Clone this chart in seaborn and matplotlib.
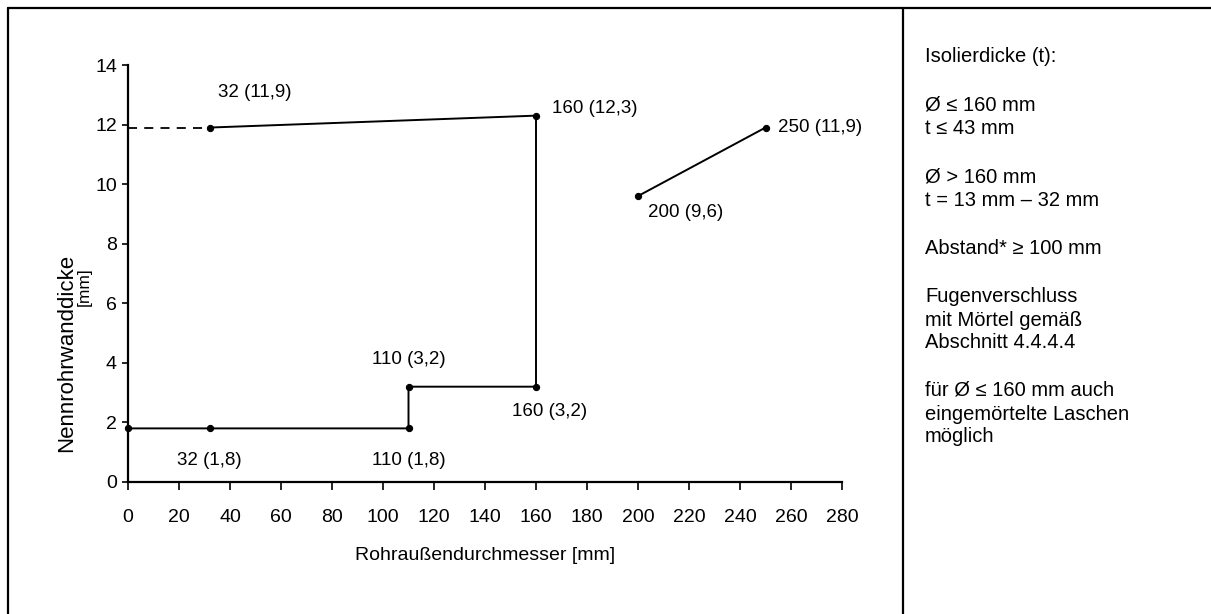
import matplotlib
matplotlib.use("Agg")
import matplotlib.pyplot as plt
import seaborn as sns
import pandas as pd
from matplotlib.lines import Line2D

# Daten: Grenzlinie Rohraußendurchmesser / Nennrohrwanddicke
haupt_x = [0, 32, 110, 110, 160, 160, 32]
haupt_y = [1.8, 1.8, 1.8, 3.2, 3.2, 12.3, 11.9]
gestrichelt_x = [0, 32]
gestrichelt_y = [11.9, 11.9]
rechts_x = [200, 250]
rechts_y = [9.6, 11.9]

punkt_x = [32, 160, 250, 200, 110, 160, 32, 110]
punkt_y = [11.9, 12.3, 11.9, 9.6, 3.2, 3.2, 1.8, 1.8]
punkt_text = ["32 (11,9)", "160 (12,3)", "250 (11,9)", "200 (9,6)",
              "110 (3,2)", "160 (3,2)", "32 (1,8)", "110 (1,8)"]

x_ticks = list(range(0, 281, 20))
y_ticks = list(range(0, 15, 2))

info_zeilen = [
    ("Isolierdicke (t):", 57),
    ("Ø ≤ 160 mm", 105),
    ("t ≤ 43 mm", 128),
    ("Ø > 160 mm", 177),
    ("t = 13 mm – 32 mm", 201),
    ("Abstand* ≥ 100 mm", 249),
    ("Fugenverschluss", 297),
    ("mit Mörtel gemäß", 320),
    ("Abschnitt 4.4.4.4", 343),
    ("für Ø ≤ 160 mm auch", 390),
    ("eingemörtelte Laschen", 414),
    ("möglich", 437),
]

sns.set_theme(style="ticks")
plt.rcParams['font.family'] = ['Liberation Sans', 'DejaVu Sans']
plt.rcParams['text.color'] = 'black'
plt.rcParams['axes.labelcolor'] = 'black'

W, H = 1211, 614
fig = plt.figure(figsize=(W / 100, H / 100), dpi=100)
ax = fig.add_axes([128 / W, 1 - 482 / H, (842 - 128) / W, (482 - 65) / H])

df_haupt = pd.DataFrame({"x": haupt_x, "y": haupt_y})
df_gest = pd.DataFrame({"x": gestrichelt_x, "y": gestrichelt_y})
df_rechts = pd.DataFrame({"x": rechts_x, "y": rechts_y})

sns.lineplot(data=df_haupt, x="x", y="y", sort=False, estimator=None, ax=ax,
             color="black", linewidth=1.4, marker="o", markersize=4.5,
             markeredgecolor="black", clip_on=False)
sns.lineplot(data=df_gest, x="x", y="y", sort=False, estimator=None, ax=ax,
             color="black", linewidth=1.3, linestyle=(0, (5, 4)), clip_on=False)
sns.lineplot(data=df_rechts, x="x", y="y", sort=False, estimator=None, ax=ax,
             color="black", linewidth=1.4, marker="o", markersize=4.5,
             markeredgecolor="black", clip_on=False)

# Beschriftungen der Punkte (Versatz in Pixeln, ha)
versatz = [(45, 35, "center"), (16, 7, "left"), (13, 0, "left"), (10, -16, "left"),
           (0, 27, "center"), (-24, -25, "left"), (0, -32, "center"), (0, -32, "center")]
for px, py, txt, (dx, dy, ha) in zip(punkt_x, punkt_y, punkt_text, versatz):
    ax.annotate(txt, (px, py), xytext=(dx, dy), textcoords="offset pixels",
                ha=ha, va="center", fontsize=13.5)

ax.set_xlim(0, 280)
ax.set_ylim(0, 14)
ax.set_xticks(x_ticks)
ax.set_yticks(y_ticks)
ax.tick_params(axis="x", direction="out", length=5.5, width=1.2, pad=14,
               labelsize=14, colors="black")
ax.tick_params(axis="y", direction="out", length=4, width=1.2, pad=4,
               labelsize=14, colors="black")
for s in ["top", "right"]:
    ax.spines[s].set_visible(False)
for s in ["left", "bottom"]:
    ax.spines[s].set_linewidth(1.6)
    ax.spines[s].set_color("black")

ax.set_xlabel("Rohraußendurchmesser [mm]", fontsize=14, labelpad=15)
ax.set_ylabel("")
fig.text(67 / W, 1 - 353 / H, "Nennrohrwanddicke", rotation=90,
         ha="center", va="center", fontsize=16)
fig.text(84 / W, 1 - 287 / H, "[mm]", rotation=90,
         ha="center", va="center", fontsize=12.5)

# Rechte Spalte
for txt, yy in info_zeilen:
    fig.text(925 / W, 1 - yy / H, txt, ha="left", va="center", fontsize=14.5)

# Rahmen und Trennlinie
fig.add_artist(Line2D([8 / W, 8 / W], [0, 1 - 8 / H], color="black", lw=1.6))
fig.add_artist(Line2D([8 / W, 1], [1 - 8 / H, 1 - 8 / H], color="black", lw=1.6))
fig.add_artist(Line2D([903 / W, 903 / W], [0, 1 - 8 / H], color="black", lw=1.6))

fig.savefig("out.png", dpi=100)
